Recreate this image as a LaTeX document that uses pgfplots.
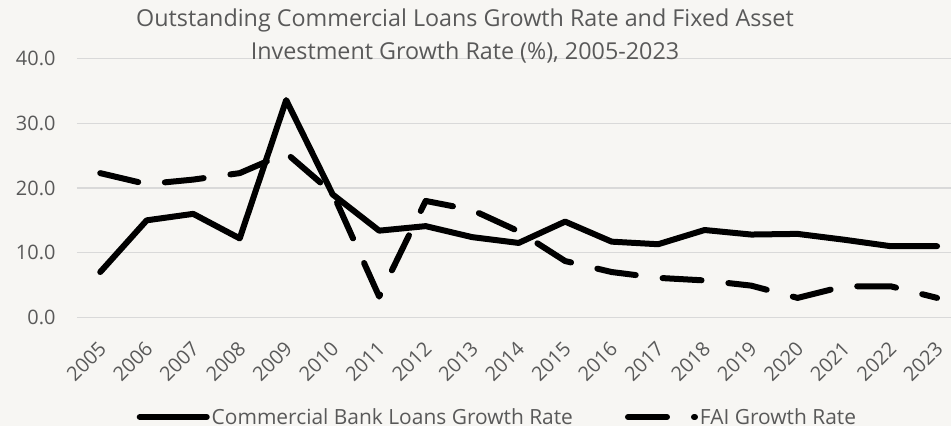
\documentclass[border=0pt]{standalone}
\usepackage{pgfplots}
\pgfplotsset{compat=1.18}
\usepackage{fontspec}
\setmainfont{Open Sans}
\usetikzlibrary{backgrounds}
\definecolor{bgc}{HTML}{F7F6F3}
\definecolor{txt}{HTML}{595959}
\definecolor{grd}{HTML}{D9D9D9}

\begin{document}
\begin{tikzpicture}
\begin{axis}[
    name=ax,
    scale only axis,
    width=874bp, height=258.6bp,
    xmin=2004.5, xmax=2023.3,
    ymin=0, ymax=40,
    xtick={2005,...,2023},
    ytick={0,10,20,30,40},
    axis line style={draw=none},
    major tick style={draw=none},
    ymajorgrids,
    major grid style={grd, line width=1.5bp},
    tick label style={font=\fontsize{20}{24}\selectfont, text=txt},
    /pgf/number format/assume math mode=true,
    % shifts are in the rotated frame
    xticklabel style={/pgf/number format/1000 sep=, rotate=45, anchor=north east, inner sep=0bp, xshift=-18.4bp, yshift=-14.1bp},
    yticklabel style={/pgf/number format/fixed, /pgf/number format/zerofill, /pgf/number format/precision=1, xshift=-18bp},
    clip=false,
    legend columns=2,
    legend style={draw=none, fill=none, font=\fontsize{21}{25}\selectfont, text=txt,
        at={(0.481,0)}, anchor=center, yshift=-99.7bp,
        /tikz/every even column/.append style={column sep=50bp}},
    legend image code/.code={\draw[#1] (0bp,0bp) -- (67bp,0bp);},
]
\addplot[black, line width=6bp, line join=round, line cap=round] coordinates {
(2005,7.0) (2006,15.0) (2007,16.0) (2008,12.2) (2009,33.6) (2010,19.0)
(2011,13.4) (2012,14.1) (2013,12.4) (2014,11.5) (2015,14.8) (2016,11.7)
(2017,11.3) (2018,13.5) (2019,12.8) (2020,12.9) (2021,12.0) (2022,11.0) (2023,11.0)
};
\addlegendentry{Commercial Bank Loans Growth Rate}
\addplot[black, line width=6bp, line join=round, line cap=round, dash pattern=on 39bp off 27bp] coordinates {
(2005,22.3) (2006,20.6) (2007,21.3) (2008,22.3) (2009,25.4) (2010,19.2)
(2011,3.2) (2012,18.0) (2013,16.6) (2014,13.3) (2015,8.7) (2016,7.0)
(2017,6.1) (2018,5.7) (2019,4.9) (2020,3.0) (2021,4.8) (2022,4.8) (2023,3.0)
};
\addlegendentry{FAI Growth Rate}
\node[anchor=base, text=txt, font=\fontsize{23.4}{27}\selectfont] at ([xshift=388bp, yshift=31.7bp]rel axis cs:0,1) {Outstanding Commercial Loans Growth Rate and Fixed Asset};
\node[anchor=base, text=txt, font=\fontsize{23.4}{27}\selectfont] at ([xshift=388bp, yshift=-1.3bp]rel axis cs:0,1) {Investment Growth Rate (\%), 2005-2023};
\end{axis}
\pgfresetboundingbox
\path ([xshift=-77bp, yshift=-108.7bp]ax.south west) rectangle ([yshift=58.7bp]ax.north east);
\begin{scope}[on background layer]
\fill[bgc] ([xshift=-77bp, yshift=-108.7bp]ax.south west) rectangle ([yshift=58.7bp]ax.north east);
\end{scope}
\end{tikzpicture}
\end{document}
